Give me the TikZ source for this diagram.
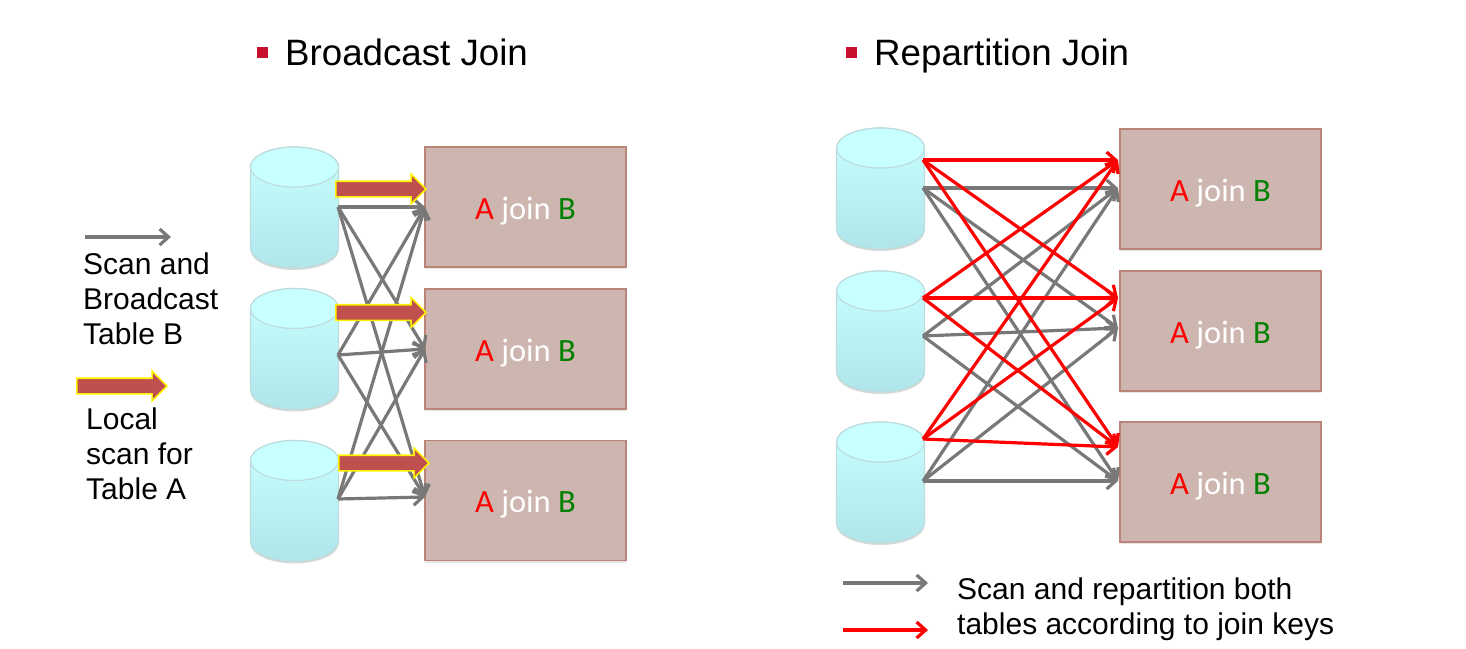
\documentclass[tikz,border=0pt]{standalone}
\usepackage{fontspec}
\setmainfont{Liberation Sans}
\newfontfamily\joinfont{Carlito}
\usetikzlibrary{shapes.arrows, shadows, arrows.meta}

\definecolor{boxfill}{HTML}{CDB6AF}
\definecolor{boxline}{HTML}{BC8476}
\definecolor{localfill}{HTML}{C0504D}
\definecolor{bulletred}{HTML}{C8102E}
\definecolor{keygreen}{HTML}{008000}
\definecolor{scangray}{HTML}{787878}
\definecolor{dbtop}{HTML}{C8FFFF}
\definecolor{dbbottom}{HTML}{B0E6EA}
\definecolor{dbline}{HTML}{BEDCDC}

\tikzset{
    database/.pic = {
        \draw [dbline, line width = 1.2pt, top color = dbtop, bottom color = dbbottom, drop shadow = {shadow xshift = 0pt, shadow yshift = -2pt, opacity = .3}]
            (-44, -40.5) -- (-44, 40.5) arc (180:0:44 and 20) -- (44, -40.5) arc (0:-180:44 and 20) -- cycle;
        \draw [dbline, line width = 1.2pt, fill = dbtop] (0, -40.5) ellipse (44 and 20);
    },
    joinbox/.style = {rectangle, draw = boxline, fill = boxfill, line width = 1.4pt, minimum width = 201pt, minimum height = 120pt, inner sep = 0pt, text height = 24pt, text depth = 0pt, font = \joinfont\fontsize{32.5}{36}\selectfont, drop shadow = {shadow xshift = 0pt, shadow yshift = -2pt, opacity = .2}},
    localarrow/.style = {single arrow, draw = yellow, fill = localfill, line width = 1.6pt, minimum height = 90pt, minimum width = 28pt, single arrow head extend = 7pt, single arrow head indent = 0pt, inner xsep = 0pt, inner ysep = 7pt},
    scanarrow/.style = {draw = scangray, line width = 3.2pt, -{Straight Barb[length = 9pt, width = 16pt]}},
    redarrow/.style = {draw = red, line width = 3.2pt, -{Straight Barb[length = 9pt, width = 16pt]}},
    heading/.style = {anchor = base west, inner sep = 0pt, font = \fontsize{36.7}{40}\selectfont},
    legend/.style = {anchor = north west, inner sep = 0pt, align = left, font = \fontsize{30}{35}\selectfont},
    bullet/.style = {rectangle, fill = bulletred, minimum size = 11pt, inner sep = 0pt}
}

\newcommand{\joinlabel}{\textcolor{red}{A} \textcolor{white}{join} \textcolor{keygreen}{B}}

\begin{document}
\begin{tikzpicture}[x = 1pt, y = -1pt]
    \useasboundingbox (0, 0) rectangle (1466, 648);

    % headings
    \node [bullet] (bullet left) at (262.5, 52) {};
    \node [heading] (title left) at (285, 65) {Broadcast Join};
    \node [bullet] (bullet right) at (851.5, 52) {};
    \node [heading] (title right) at (874, 65) {Repartition Join};

    % broadcast join
    \pic at (294.5, 207.5) {database};
    \pic at (294.5, 349) {database};
    \pic at (294.5, 501) {database};

    \node [joinbox] (left box 1) at (525.5, 207) {\joinlabel};
    \node [joinbox] (left box 2) at (525.5, 349) {\joinlabel};
    \node [joinbox] (left box 3) at (525.5, 500.5) {\joinlabel};

    \coordinate (left out 1) at (338, 207);
    \coordinate (left out 2) at (338, 355);
    \coordinate (left out 3) at (338, 499);
    \coordinate (left in 1) at (425, 207);
    \coordinate (left in 2) at (425, 349);
    \coordinate (left in 3) at (425, 497);

    \foreach \i in {1, 2, 3} {
        \foreach \j in {1, 2, 3} {
            \draw [scanarrow] (left out \i) -- (left in \j);
        }
    }

    \node [localarrow] (left local 1) at (377, 189) {};
    \node [localarrow] (left local 2) at (377, 312.5) {};
    \node [localarrow] (left local 3) at (380, 463) {};

    % repartition join
    \pic at (880.5, 188.5) {database};
    \pic at (880.5, 331.5) {database};
    \pic at (880.5, 482.5) {database};

    \node [joinbox] (right box 1) at (1220.5, 189) {\joinlabel};
    \node [joinbox] (right box 2) at (1220.5, 331) {\joinlabel};
    \node [joinbox] (right box 3) at (1220.5, 482) {\joinlabel};

    \coordinate (gray out 1) at (923, 188);
    \coordinate (gray out 2) at (923, 336);
    \coordinate (gray out 3) at (923, 481);
    \coordinate (gray in 1) at (1118, 188);
    \coordinate (gray in 2) at (1118, 328);
    \coordinate (gray in 3) at (1118, 481);

    \coordinate (red out 1) at (923, 160);
    \coordinate (red out 2) at (923, 298);
    \coordinate (red out 3) at (923, 439);
    \coordinate (red in 1) at (1118, 160);
    \coordinate (red in 2) at (1118, 298);
    \coordinate (red in 3) at (1118, 447);

    \foreach \i in {1, 2, 3} {
        \foreach \j in {1, 2, 3} {
            \draw [scanarrow] (gray out \i) -- (gray in \j);
        }
    }
    \foreach \i in {1, 2, 3} {
        \foreach \j in {1, 2, 3} {
            \draw [redarrow] (red out \i) -- (red in \j);
        }
    }

    % legends
    \coordinate (key scan start) at (85, 237);
    \coordinate (key scan end) at (171, 237);
    \draw [scanarrow] (key scan start) -- (key scan end);
    \node [legend] (key scan) at (83, 253) {Scan and\\Broadcast\\Table B};

    \node [localarrow] (key local) at (118, 386) {};
    \node [legend] (key table) at (86, 408) {Local\\scan for\\Table A};

    \coordinate (key gray start) at (843, 583);
    \coordinate (key gray end) at (928, 583);
    \coordinate (key red start) at (843, 630);
    \coordinate (key red end) at (928, 630);
    \draw [scanarrow] (key gray start) -- (key gray end);
    \draw [redarrow] (key red start) -- (key red end);
    \node [legend] (key both) at (957, 578) {Scan and repartition both\\tables according to join keys};
\end{tikzpicture}
\end{document}
